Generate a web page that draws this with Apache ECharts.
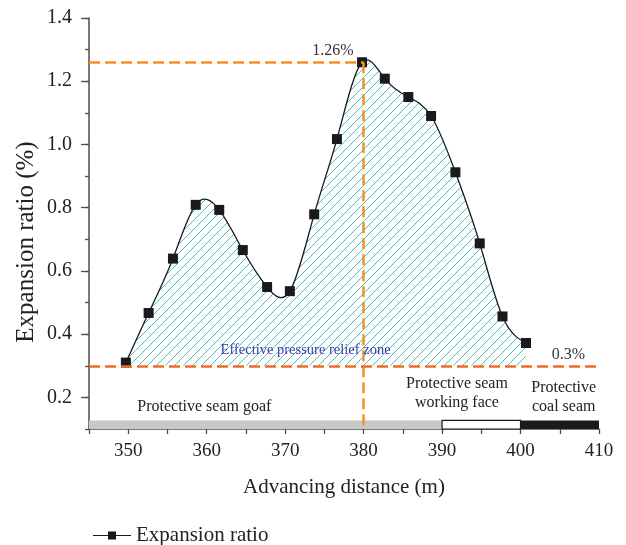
<!DOCTYPE html>
<html>
<head>
<meta charset="utf-8">
<script src="https://cdn.jsdelivr.net/npm/echarts@6/dist/echarts.min.js"></script>
<style>
  html, body { margin: 0; padding: 0; background: #fff; }
  #chart { width: 626px; height: 545px; }
</style>
</head>
<body>
<div id="chart"></div>
<script>
// Advancing distance (m) of each measuring point
var distance = [349.7, 352.6, 355.7, 358.6, 361.6, 364.6, 367.7, 370.6, 373.7, 376.6,
                379.8, 382.7, 385.7, 388.6, 391.7, 394.8, 397.7, 400.7];
// Expansion ratio (%) measured at each point
var expansion = [0.31, 0.467, 0.639, 0.809, 0.793, 0.666, 0.549, 0.536, 0.779, 1.017,
                 1.26, 1.208, 1.15, 1.09, 0.912, 0.687, 0.456, 0.372];

var peakDistance = 380;      // position of the peak reference line
var peakRatio = 1.26;        // peak expansion ratio (%)
var criticalRatio = 0.3;     // effective pressure relief threshold (%)

// Strata bands along the bottom of the plot
var zoneBounds = [345, 390, 400, 410];
var zoneNames = ['Protective seam goaf', 'Protective seam\nworking face', 'Protective\ncoal seam'];

var xTicks = [350, 360, 370, 380, 390, 400, 410];
var yTicks = [0.2, 0.4, 0.6, 0.8, 1.0, 1.2, 1.4];

var SERIF = '"Liberation Serif", "DejaVu Serif", serif';
var AXIS_COLOR = '#4d4d4d';

// Diagonal hatch tile for the relief zone
function hatchTile() {
  var s = 9;
  var c = document.createElement('canvas');
  c.width = s; c.height = s;
  var g = c.getContext('2d');
  g.strokeStyle = '#3fc3c6';
  g.lineWidth = 1;
  g.beginPath();
  g.moveTo(0, s); g.lineTo(s, 0);
  g.moveTo(-1, 1); g.lineTo(1, -1);
  g.moveTo(s - 1, s + 1); g.lineTo(s + 1, s - 1);
  g.stroke();
  return c;
}
var HATCH = { image: hatchTile(), repeat: 'repeat' };

// Natural cubic spline slopes at each measuring point
function splineSlopes(xs, ys) {
  var n = xs.length, h = [], i;
  for (i = 0; i < n - 1; i++) h.push(xs[i + 1] - xs[i]);
  var a = new Array(n).fill(0), b = new Array(n).fill(1), c = new Array(n).fill(0), d = new Array(n).fill(0);
  for (i = 1; i < n - 1; i++) {
    a[i] = h[i - 1];
    b[i] = 2 * (h[i - 1] + h[i]);
    c[i] = h[i];
    d[i] = 6 * ((ys[i + 1] - ys[i]) / h[i] - (ys[i] - ys[i - 1]) / h[i - 1]);
  }
  // Thomas algorithm
  for (i = 1; i < n; i++) {
    var w = a[i] / b[i - 1];
    b[i] -= w * c[i - 1];
    d[i] -= w * d[i - 1];
  }
  var M = new Array(n).fill(0);
  M[n - 1] = d[n - 1] / b[n - 1];
  for (i = n - 2; i >= 0; i--) M[i] = (d[i] - c[i] * M[i + 1]) / b[i];
  var m = [];
  for (i = 0; i < n - 1; i++) m.push((ys[i + 1] - ys[i]) / h[i] - h[i] * (2 * M[i] + M[i + 1]) / 6);
  m.push((ys[n - 1] - ys[n - 2]) / h[n - 2] + h[n - 2] * (M[n - 2] + 2 * M[n - 1]) / 6);
  return m;
}
var slopes = splineSlopes(distance, expansion);

// Bezier path (pixel space) of the spline through the measuring points
function curvePath(api) {
  var p0 = api.coord([distance[0], expansion[0]]);
  var s = 'M' + p0[0] + ',' + p0[1];
  for (var i = 0; i < distance.length - 1; i++) {
    var hh = distance[i + 1] - distance[i];
    var c1 = api.coord([distance[i] + hh / 3, expansion[i] + slopes[i] * hh / 3]);
    var c2 = api.coord([distance[i + 1] - hh / 3, expansion[i + 1] - slopes[i + 1] * hh / 3]);
    var e = api.coord([distance[i + 1], expansion[i + 1]]);
    s += ' C' + c1[0] + ',' + c1[1] + ' ' + c2[0] + ',' + c2[1] + ' ' + e[0] + ',' + e[1];
  }
  return s;
}

var points = distance.map(function (d, i) { return [d, expansion[i]]; });

var zoneStyles = [
  { color: '#c8c8c8', borderWidth: 0 },
  { color: '#ffffff', borderColor: '#1a1a1a', borderWidth: 1.2 },
  { color: '#1a1a1a', borderWidth: 0 }
];
var zoneTop = 0.127;
var zoneAreas = zoneStyles.map(function (st, i) {
  return [
    { coord: [zoneBounds[i], 0.1], itemStyle: st },
    { coord: [zoneBounds[i + 1], zoneTop] }
  ];
});

var textStyleLabel = function (txt, color, size, align) {
  return {
    show: true, formatter: txt, color: color, fontFamily: SERIF,
    fontSize: size, lineHeight: size + 3, align: align || 'center',
    verticalAlign: 'middle', position: 'inside'
  };
};

var chart = echarts.init(document.getElementById('chart'), null, { renderer: 'canvas' });

chart.setOption({
  animation: false,
  backgroundColor: '#ffffff',
  grid: { left: 89, right: 27, top: 18, bottom: 116, containLabel: false },
  legend: {
    left: 88, top: 520,
    itemWidth: 38, itemHeight: 10, itemGap: 10,
    textStyle: { fontFamily: SERIF, fontSize: 21, color: '#222' },
    data: [{
      name: 'Expansion ratio',
      icon: 'path://M0,4.4H15V1H23V4.4H38V5.6H23V9H15V5.6H0Z'
    }]
  },
  xAxis: {
    type: 'value', min: 345, max: 410, interval: 5,
    name: 'Advancing distance (m)', nameLocation: 'middle', nameGap: 48,
    nameTextStyle: { fontFamily: SERIF, fontSize: 21, color: '#222' },
    axisLine: { onZero: false, lineStyle: { color: AXIS_COLOR, width: 1.5 } },
    axisTick: { show: true, length: 5, lineStyle: { color: AXIS_COLOR, width: 1.3 } },
    axisLabel: {
      margin: 13, fontFamily: SERIF, fontSize: 19, color: '#222',
      formatter: function (v) { return xTicks.indexOf(Math.round(v)) >= 0 && Math.abs(v - Math.round(v)) < 1e-6 ? String(Math.round(v)) : ''; }
    },
    splitLine: { show: false }
  },
  yAxis: [{
    type: 'value', min: 0.1, max: 1.4, interval: 0.1,
    axisLine: { onZero: false, lineStyle: { color: AXIS_COLOR, width: 1.5 } },
    axisTick: { show: true, length: 4, lineStyle: { color: AXIS_COLOR, width: 1.3 } },
    axisLabel: { show: false },
    splitLine: { show: false }
  }, {
    type: 'value', min: 0.1, max: 1.4, position: 'left',
    axisLine: { show: false },
    axisTick: { show: true, length: 8, customValues: yTicks, lineStyle: { color: AXIS_COLOR, width: 1.3 } },
    axisLabel: {
      margin: 17, fontFamily: SERIF, fontSize: 20, color: '#222',
      customValues: yTicks,
      formatter: function (v) { return v.toFixed(1); }
    },
    splitLine: { show: false }
  }],
  graphic: [{
    type: 'text', x: 26, y: 242, rotation: Math.PI / 2,
    style: { text: 'Expansion ratio (%)', font: '25px ' + SERIF, fill: '#222', align: 'center', verticalAlign: 'middle' }
  }],
  series: [{
    // hatched relief zone and the fitted curve
    name: 'curve', type: 'custom', data: points, silent: true, z: 1,
    renderItem: function (params, api) {
      if (params.dataIndex !== 0) return null;
      var path = curvePath(api);
      var last = api.coord([distance[distance.length - 1], criticalRatio]);
      var first = api.coord([distance[0], criticalRatio]);
      return {
        type: 'group',
        children: [{
          type: 'path',
          shape: { pathData: path + ' L' + last[0] + ',' + last[1] + ' L' + first[0] + ',' + first[1] + ' Z' },
          style: { fill: HATCH, stroke: null }
        }, {
          type: 'path', z2: 5,
          shape: { pathData: path },
          style: { fill: null, stroke: '#1a1a1a', lineWidth: 1.3 }
        }]
      };
    }
  }, {
    // bottom strata bands and dashed reference lines
    name: 'zones', type: 'line', data: [], silent: true,
    markArea: {
      silent: true,
      label: { show: false },
      data: zoneAreas
    },
    markLine: {
      silent: true, symbol: 'none',
      label: { show: false },
      data: [
        [{ coord: [345, peakRatio], lineStyle: { color: '#f7901e', width: 2.5, type: [11, 5] } }, { coord: [peakDistance, peakRatio] }],
        [{ coord: [peakDistance, peakRatio], lineStyle: { color: '#f7901e', width: 2.5, type: [11, 5] } }, { coord: [peakDistance, 0.1] }],
        [{ coord: [345, criticalRatio], lineStyle: { color: '#f26b22', width: 2.5, type: [11, 5] } }, { coord: [410, criticalRatio] }]
      ]
    },
    markPoint: {
      silent: true, symbol: 'rect', symbolSize: 1,
      itemStyle: { color: 'rgba(0,0,0,0)' },
      data: [
        { coord: [376.1, 1.297], label: textStyleLabel(peakRatio + '%', '#333', 16) },
        { coord: [406.1, 0.335], label: textStyleLabel(criticalRatio + '%', '#333', 16) },
        { coord: [372.6, 0.35], label: textStyleLabel('Effective pressure relief zone', '#3b3ba8', 14.5) },
        { coord: [359.7, 0.17], label: textStyleLabel(zoneNames[0], '#222', 16) },
        { coord: [391.9, 0.214], label: textStyleLabel(zoneNames[1], '#222', 16) },
        { coord: [405.5, 0.2], label: textStyleLabel(zoneNames[2], '#222', 16) }
      ]
    }
  }, {
    // measuring points
    name: 'Expansion ratio', type: 'line', data: points,
    symbol: 'rect', symbolSize: 10,
    itemStyle: { color: '#1a1a1a' },
    lineStyle: { width: 0, opacity: 0 },
    z: 3
  }]
});
</script>
</body>
</html>
